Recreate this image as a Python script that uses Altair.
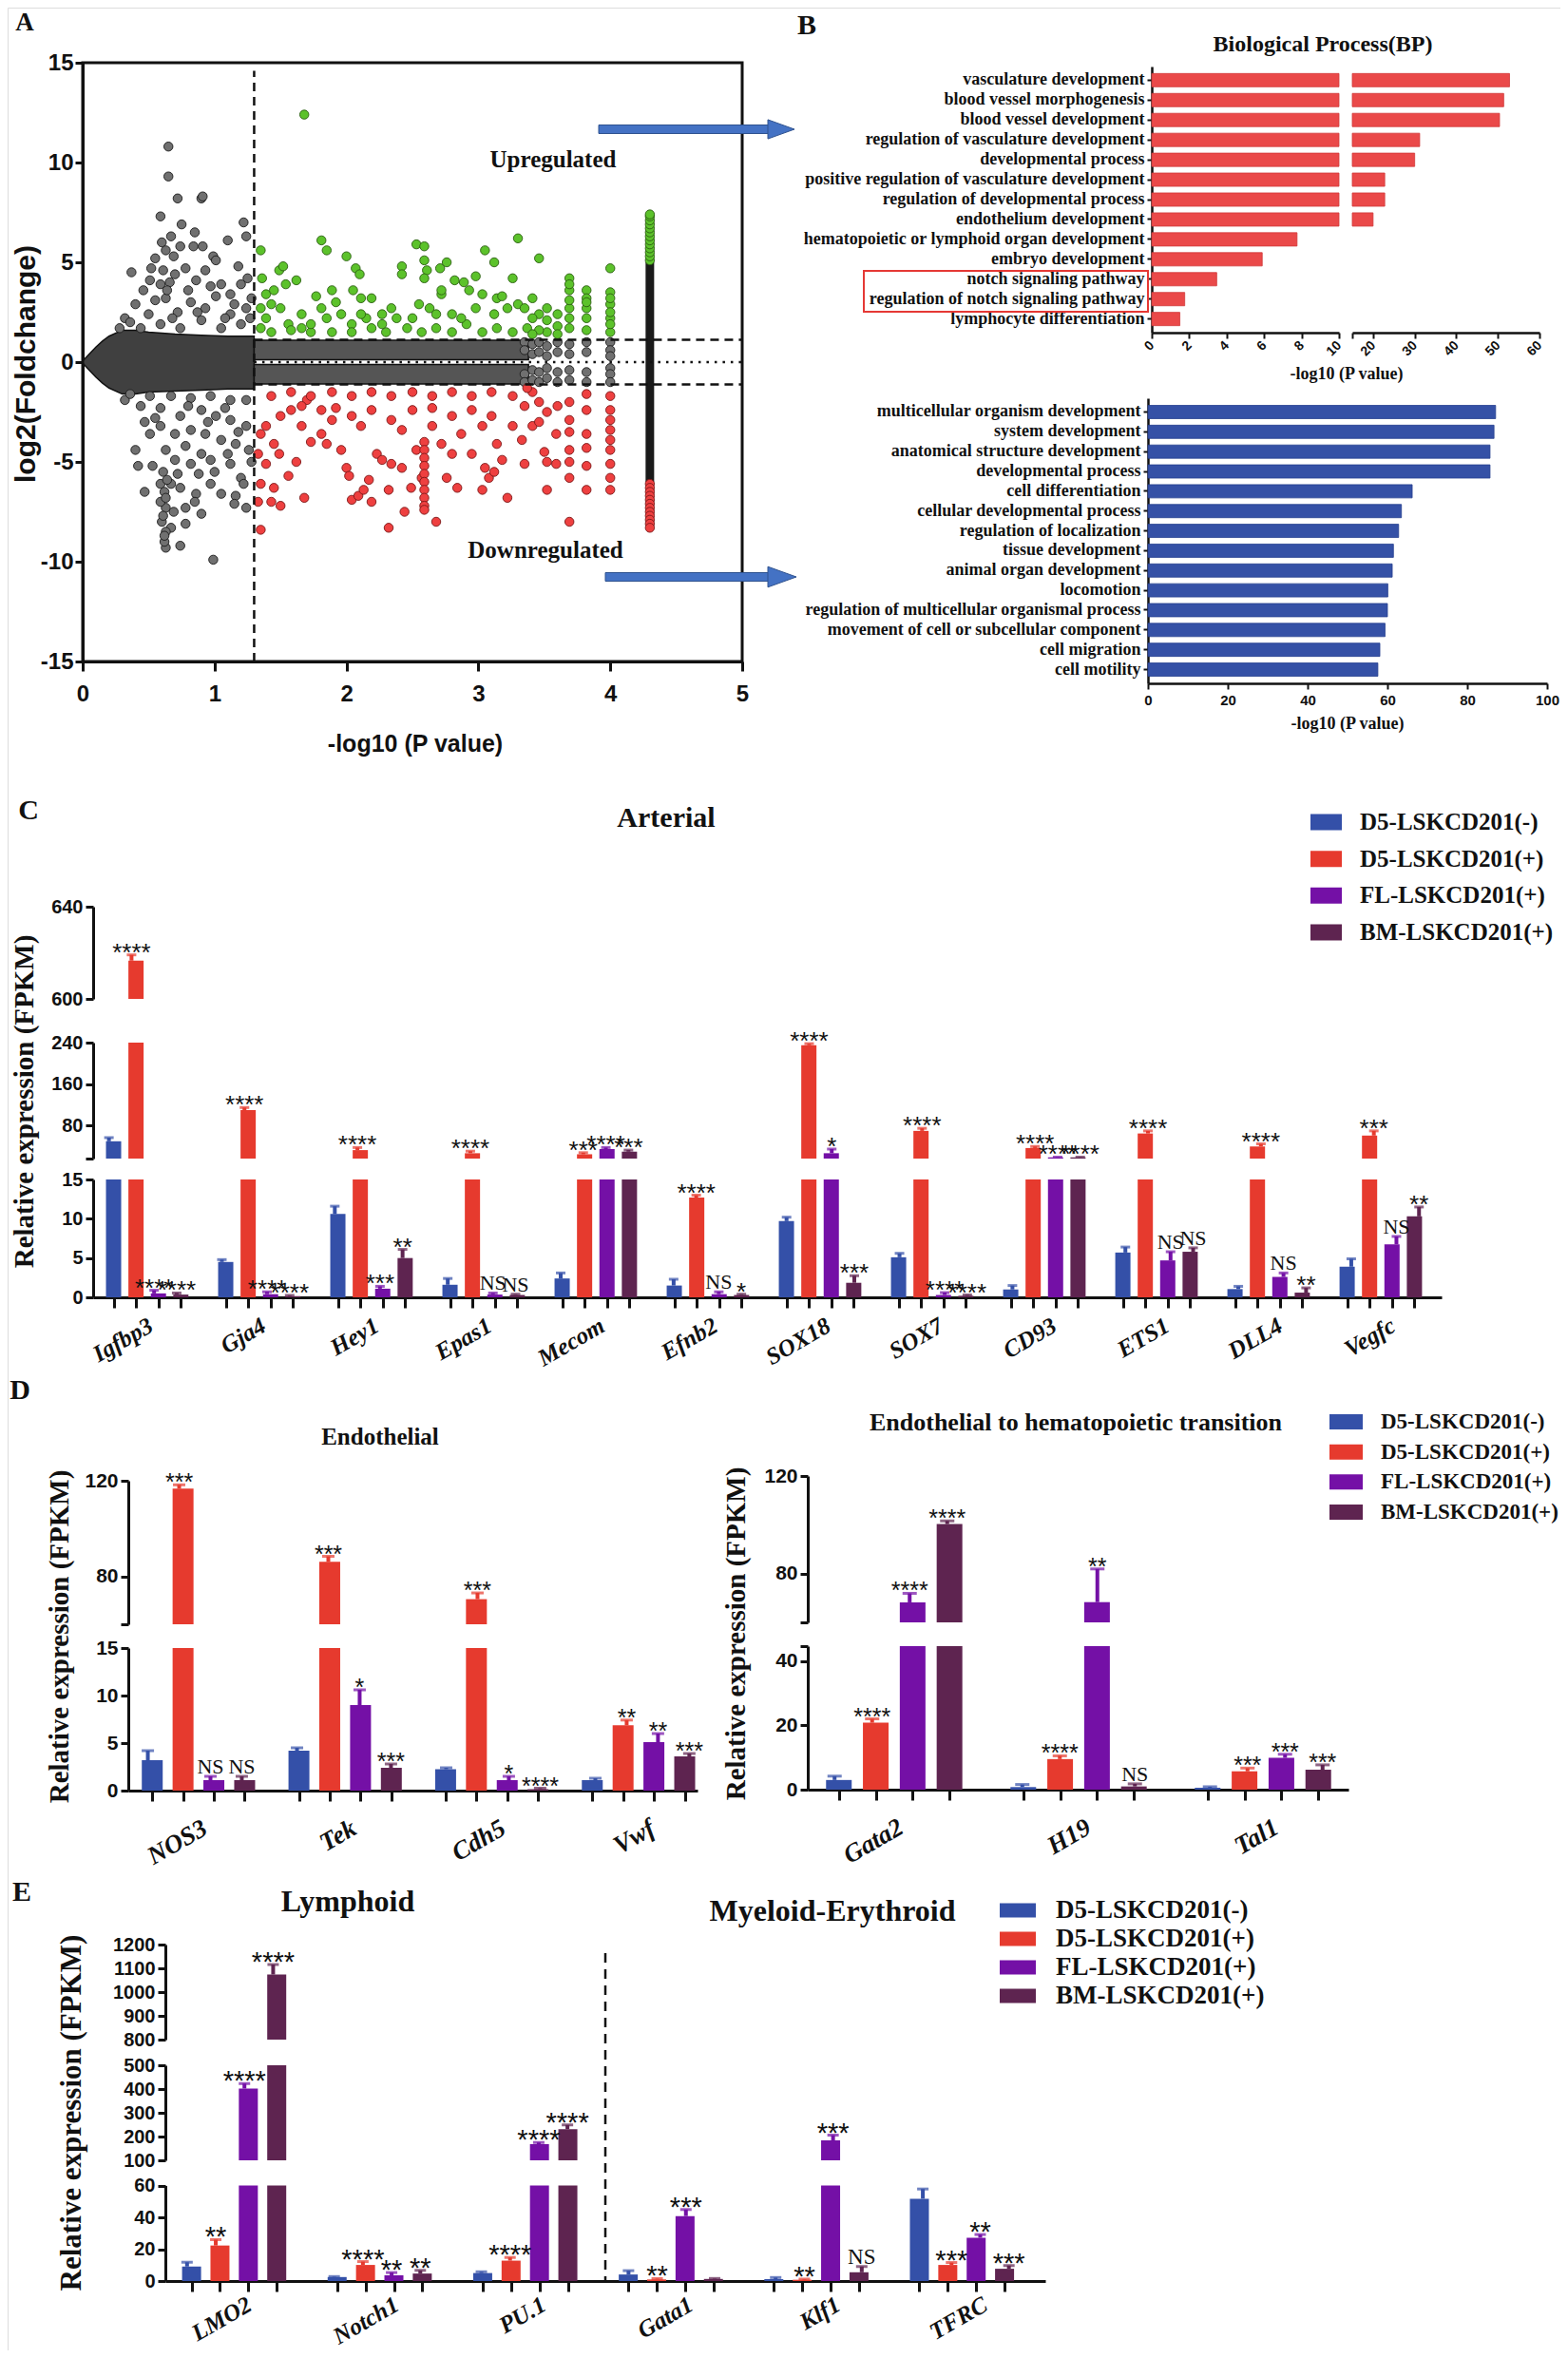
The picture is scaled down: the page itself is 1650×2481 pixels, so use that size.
import json
import altair as alt
import pandas as pd

W, H = 1634, 2465
M = 8


def P(v):
    return round(v - M, 2)


SERIF = "Liberation Serif"
SANS = "Liberation Sans"
BLACK = "#111111"

SERIES = ["D5-LSKCD201(-)", "D5-LSKCD201(+)", "FL-LSKCD201(+)", "BM-LSKCD201(+)"]
SERIES_COLORS = ["#3450A8", "#E63A2E", "#7410A6", "#5E2450"]
COLOR = alt.Color("series:N", scale=alt.Scale(domain=SERIES, range=SERIES_COLORS), legend=None)
ONE = alt.Data(values=[{}])

# ---------------- Panel A : volcano ----------------
up_pts = [(1.68, 12.4), (1.35, 5.6), (1.36, 4.2), (1.39, 3.4), (1.45, 3.6), (1.49, 4.6), (1.52, 4.8), (1.54, 3.9),
          (1.62, 4.1), (1.35, 2.7), (1.43, 2.9), (1.5, 2.7), (1.56, 1.9), (1.66, 1.7), (1.73, 1.5), (1.81, 6.1),
          (1.85, 5.6), (1.77, 3.3), (1.89, 3.6), (1.92, 3.0), (2.0, 5.3), (2.07, 4.7), (2.1, 4.4), (2.05, 3.6),
          (2.11, 3.2), (2.19, 3.2), (1.85, 2.2), (1.96, 2.4), (2.04, 1.9), (2.15, 2.2), (2.27, 2.4), (2.34, 2.7),
          (2.38, 2.2), (2.42, 4.8), (2.42, 4.4), (2.53, 5.9), (2.59, 5.8), (2.59, 5.1), (2.61, 4.6), (2.59, 4.2),
          (2.71, 4.7), (2.76, 5.0), (2.55, 2.9), (2.63, 2.7), (2.72, 3.4), (2.72, 3.6), (2.82, 4.1), (2.89, 4.0),
          (2.98, 4.3), (2.93, 3.6), (3.05, 5.6), (3.03, 3.4), (3.12, 5.0), (3.14, 3.2), (3.26, 4.2), (3.3, 6.2),
          (3.18, 3.3), (3.22, 2.7), (3.3, 2.9), (3.35, 2.7), (3.41, 3.2), (3.46, 5.2), (3.46, 2.4), (3.52, 2.7),
          (3.52, 2.1), (3.6, 2.4), (3.6, 1.8), (3.69, 4.2), (3.69, 3.6), (3.69, 2.7), (3.69, 1.7), (3.82, 3.6),
          (3.82, 3.2), (3.82, 2.2), (4.0, 4.7), (4.0, 3.5), (4.0, 2.9), (4.0, 2.2), (4.0, 1.5), (1.43, 1.5),
          (1.58, 1.6), (1.73, 1.9), (1.89, 1.5), (2.04, 1.5), (2.19, 1.7), (2.3, 1.5), (2.46, 1.7), (2.57, 1.5),
          (2.68, 1.7), (2.8, 1.5), (2.91, 1.9), (3.03, 1.5), (3.14, 1.7), (3.26, 1.5), (3.37, 1.7), (2.8, 2.4),
          (2.87, 2.2), (2.27, 1.9), (2.11, 2.4), (1.66, 2.4), (1.35, 1.7), (1.39, 2.2), (3.41, 2.2), (3.12, 2.4),
          (2.98, 2.7), (2.5, 2.2), (2.68, 2.4), (1.81, 2.7), (3.52, 1.5), (3.6, 1.4), (3.69, 2.2), (3.69, 3.1),
          (3.69, 3.9), (3.82, 1.6), (3.82, 2.7), (3.82, 3.0), (4.0, 1.9), (4.0, 2.5), (4.0, 3.2), (3.46, 1.6),
          (3.41, 1.4)]
down_pts = [(1.35, -8.4), (1.33, -7.0), (1.35, -6.1), (1.39, -5.1), (1.33, -4.6), (1.43, -7.0), (1.45, -6.3),
            (1.5, -7.2), (1.56, -5.7), (1.62, -5.0), (1.68, -6.8), (1.35, -3.6), (1.39, -3.2), (1.45, -4.1),
            (1.49, -4.6), (1.5, -2.7), (1.58, -2.4), (1.66, -3.2), (1.7, -1.9), (1.73, -4.0), (1.81, -3.6),
            (1.85, -4.1), (1.89, -2.9), (1.92, -2.3), (1.96, -4.4), (2.0, -5.3), (2.02, -5.7), (2.04, -6.9),
            (2.09, -6.7), (2.13, -6.4), (2.19, -7.0), (2.17, -5.9), (2.23, -4.6), (2.27, -4.9), (2.32, -6.4),
            (2.34, -5.1), (2.42, -5.3), (2.44, -7.5), (2.49, -6.3), (2.53, -4.4), (2.57, -5.8), (2.68, -8.0),
            (2.32, -8.3), (2.65, -3.2), (2.72, -4.1), (2.76, -5.8), (2.8, -4.6), (2.84, -6.3), (2.87, -3.6),
            (2.95, -4.6), (3.03, -6.4), (3.05, -5.3), (3.08, -5.8), (3.12, -5.5), (3.14, -4.1), (3.22, -6.8),
            (3.18, -4.9), (3.26, -3.2), (3.33, -3.9), (3.35, -5.1), (3.41, -3.2), (3.5, -4.5), (3.52, -6.4),
            (3.59, -5.1), (3.59, -3.6), (3.69, -8.0), (3.69, -5.8), (3.69, -4.4), (3.69, -2.9), (3.82, -6.4),
            (3.82, -5.2), (3.82, -3.6), (3.82, -2.4), (4.0, -6.4), (4.0, -5.8), (4.0, -5.1), (4.0, -4.4),
            (4.0, -3.4), (4.0, -2.4), (4.0, -1.7), (1.43, -1.7), (1.58, -1.5), (1.73, -1.7), (1.89, -1.5),
            (2.04, -1.7), (2.19, -1.5), (2.34, -1.7), (2.5, -1.5), (2.65, -1.7), (2.8, -1.5), (2.95, -1.7),
            (3.1, -1.5), (3.26, -1.7), (3.41, -1.5), (2.04, -2.7), (2.19, -2.4), (2.34, -2.9), (2.5, -2.4),
            (2.65, -2.3), (2.8, -2.7), (2.95, -2.4), (3.1, -2.7), (2.11, -3.2), (2.42, -3.4), (3.03, -3.2),
            (1.81, -2.4), (1.66, -2.2), (2.59, -4.0), (2.59, -4.4), (2.59, -4.8), (2.59, -5.2), (2.59, -5.6),
            (2.59, -6.0), (2.59, -6.4), (2.59, -6.8), (2.59, -7.2), (2.59, -7.4), (3.46, -2.0), (3.46, -3.0),
            (3.52, -2.5), (3.52, -5.0), (3.6, -2.2), (3.69, -2.0), (3.69, -3.5), (3.69, -5.0), (3.82, -1.6),
            (3.82, -4.3), (4.0, -2.9), (4.0, -3.9), (3.35, -2.2), (3.37, -1.3)]
ns_pts = [(0.65, 10.8), (0.65, 9.3), (0.59, 7.3), (0.72, 8.2), (0.75, 6.9), (0.9, 8.2), (0.91, 8.3), (0.85, 6.5),
          (1.22, 7.0), (1.24, 6.3), (1.1, 6.1), (0.6, 6.0), (0.37, 4.5), (0.52, 4.7), (0.63, 5.6), (0.69, 5.3),
          (0.74, 5.8), (0.84, 5.8), (0.91, 5.8), (0.99, 5.3), (1.01, 5.1), (1.18, 4.8), (1.25, 4.2), (0.46, 3.6),
          (0.51, 4.1), (0.59, 3.9), (0.7, 4.4), (0.78, 4.7), (0.86, 4.1), (0.93, 4.6), (1.05, 3.9), (1.12, 3.4),
          (1.2, 3.9), (1.28, 3.2), (0.4, 2.9), (0.5, 2.4), (0.63, 3.2), (0.72, 2.5), (0.82, 3.0), (0.93, 2.7),
          (1.01, 3.3), (1.12, 2.4), (1.24, 2.7), (0.32, 2.2), (0.44, 1.7), (0.59, 1.9), (0.74, 1.7), (0.9, 2.1),
          (1.05, 1.7), (1.2, 1.9), (0.55, 3.1), (0.66, 4.0), (0.8, 3.6), (0.97, 3.8), (1.15, 2.9), (0.28, 1.7),
          (0.36, 2.0), (0.68, 2.2), (0.87, 2.5), (1.08, 2.2), (1.27, 2.2), (0.61, 4.6), (0.67, 6.3), (0.55, 5.2),
          (0.64, 3.6), (0.63, -9.3), (0.62, -9.0), (0.74, -9.2), (0.99, -9.9), (0.6, -8.0), (0.67, -8.3),
          (0.78, -8.1), (0.78, -7.3), (0.63, -7.3), (0.9, -7.6), (0.47, -6.5), (0.4, -4.4), (0.42, -5.2),
          (0.53, -5.2), (0.59, -6.1), (0.67, -6.1), (0.74, -6.3), (0.86, -6.6), (0.97, -6.1), (1.05, -6.6),
          (1.16, -6.7), (1.24, -7.3), (1.2, -5.8), (1.12, -5.1), (0.97, -4.9), (0.9, -4.6), (0.82, -5.1),
          (0.7, -4.9), (0.63, -4.4), (0.51, -3.6), (0.59, -3.2), (0.7, -3.6), (0.82, -3.4), (0.93, -3.6),
          (1.05, -3.9), (1.16, -4.1), (1.26, -4.4), (1.24, -3.2), (1.12, -2.9), (1.01, -2.7), (0.9, -2.4),
          (0.74, -2.7), (0.59, -2.3), (0.44, -2.2), (0.32, -1.9), (0.51, -1.7), (0.67, -1.7), (0.82, -1.8),
          (0.97, -1.7), (1.12, -1.9), (1.24, -1.9), (1.22, -6.1), (0.59, -7.0), (0.69, -7.5), (0.63, -8.5),
          (0.61, -5.5), (0.62, -6.5), (0.61, -7.7), (0.62, -8.7), (0.64, -5.9), (0.63, -6.8), (0.78, -4.2),
          (0.88, -5.6), (1.0, -5.5), (1.1, -4.6), (1.18, -3.5), (0.55, -2.8), (0.47, -3.0), (0.36, -1.6),
          (0.95, -3.0), (1.08, -2.3), (0.8, -2.2), (0.72, -5.6), (0.85, -7.0), (1.15, -7.1), (1.28, -5.0),
          (3.35, 1.0), (3.35, 0.6), (3.35, -0.6), (3.35, -1.0), (3.41, 0.9), (3.41, 0.4), (3.41, -0.4),
          (3.41, -0.9), (3.46, 1.0), (3.46, 0.5), (3.46, -0.5), (3.46, -1.0), (3.52, 0.8), (3.52, 0.3),
          (3.52, -0.3), (3.52, -0.8), (3.6, 1.0), (3.6, 0.5), (3.6, -0.5), (3.6, -1.0), (3.69, 0.9), (3.69, 0.4),
          (3.69, -0.4), (3.69, -0.9), (3.82, 1.0), (3.82, 0.5), (3.82, -0.5), (3.82, -1.0), (4.0, 1.0),
          (4.0, 0.6), (4.0, 0.3), (4.0, -0.3), (4.0, -0.6), (4.0, -1.0)]
col_x = 4.3
up_col_y = [5.1, 5.3, 5.5, 5.7, 5.9, 6.1, 6.3, 6.5, 6.7, 6.9, 7.1, 7.3, 7.4]
down_col_y = [-6.1, -6.3, -6.5, -6.7, -6.9, -7.1, -7.3, -7.5, -7.7, -7.9, -8.1, -8.3]
col_core = (-6.0, 5.0)
core_x = [0.0, 0.05, 0.1, 0.15, 0.2, 0.3, 0.4, 0.5, 0.7, 0.9, 1.1, 1.3]
core_hi = [0.05, 0.4, 0.75, 1.05, 1.3, 1.6, 1.6, 1.5, 1.4, 1.35, 1.3, 1.3]
core_lo = [-0.05, -0.4, -0.75, -1.05, -1.3, -1.6, -1.6, -1.5, -1.45, -1.4, -1.35, -1.35]
band_x = [1.3, 3.38]
band_hi = [1.1, 1.1]
band_lo = [0.12, 0.12]

# ---------------- Panel B : GO terms ----------------
bp_terms = ["vasculature development", "blood vessel morphogenesis", "blood vessel development",
            "regulation of vasculature development", "developmental process",
            "positive regulation of vasculature development", "regulation of developmental process",
            "endothelium development", "hematopoietic or lymphoid organ development", "embryo development",
            "notch signaling pathway", "regulation of notch signaling pathway", "lymphocyte differentiation"]
bp_vals = [52.8, 51.4, 50.4, 31.2, 30.0, 22.8, 22.8, 20.0, 7.76, 5.9, 3.47, 1.76, 1.5]
dn_terms = ["multicellular organism development", "system development", "anatomical structure development",
            "developmental process", "cell differentiation", "cellular developmental process",
            "regulation of localization", "tissue development", "animal organ development", "locomotion",
            "regulation of multicellular organismal process", "movement of cell or subcellular component",
            "cell migration", "cell motility"]
dn_vals = [87.1, 86.7, 85.7, 85.7, 66.2, 63.5, 62.8, 61.5, 61.2, 60.1, 60.0, 59.4, 58.1, 57.6]

# ---------------- Panel C : Arterial ----------------
C_genes = ["Igfbp3", "Gja4", "Hey1", "Epas1", "Mecom", "Efnb2", "SOX18", "SOX7", "CD93", "ETS1", "DLL4", "Vegfc"]
C_vals = [[50, 4.5, 10.6, 1.6, 2.4, 1.5, 9.7, 5.1, 1.0, 5.7, 1.05, 3.9],
          [616.6, 110, 33, 27, 25, 12.7, 235, 70, 37, 65, 40, 61],
          [0.5, 0.4, 1.1, 0.35, 35, 0.4, 27, 0.3, 19, 4.7, 2.6, 6.75],
          [0.35, 0.15, 5.0, 0.3, 30, 0.3, 1.85, 0.2, 19, 5.8, 0.6, 10.3]]
C_errs = [[7, 0.3, 1.0, 0.8, 0.7, 0.8, 0.5, 0.5, 0.5, 0.7, 0.35, 1.0],
          [2.5, 5, 5, 4, 3, 0.3, 3, 5, 3, 5, 5, 9],
          [0.4, 0.3, 0.3, 0.2, 3, 0.3, 8, 0.3, 0.5, 1.1, 0.5, 1.0],
          [0.2, 0.1, 1.1, 0.1, 3, 0.1, 0.9, 0.1, 0.5, 0.5, 0.6, 1.2]]
C_labs = [[""] * 12,
          ["****", "****", "****", "****", "***", "****", "****", "****", "****", "****", "****", "***"],
          ["****", "****", "***", "NS", "****", "NS", "*", "****", "****", "NS", "NS", "NS"],
          ["****", "****", "**", "NS", "***", "*", "***", "****", "****", "NS", "**", "**"]]

# ---------------- Panel D ----------------
DL_genes = ["NOS3", "Tek", "Cdh5", "Vwf"]
DL_vals = [[3.2, 4.2, 2.25, 1.1], [116.7, 86.1, 70.5, 6.87], [1.1, 9.0, 1.1, 5.1], [1.1, 2.4, 0.15, 3.6]]
DL_errs = [[1.0, 0.3, 0.15, 0.2], [1.6, 2.3, 2.6, 0.55], [0.4, 1.6, 0.4, 0.9], [0.4, 0.4, 0.1, 0.3]]
DL_labs = [["", "", "", ""], ["***", "***", "***", "**"], ["NS", "*", "*", "**"], ["NS", "***", "****", "***"]]

DR_genes = ["Gata2", "H19", "Tal1"]
DR_vals = [[3.0, 0.8, 0.6], [20.8, 9.5, 5.7], [68.2, 68.3, 9.9], [100.3, 1.0, 6.2]]
DR_errs = [[1.2, 0.8, 0.3], [1.2, 1.0, 1.0], [3.7, 13.6, 1.1], [1.3, 0.8, 1.5]]
DR_labs = [["", "", ""], ["****", "****", "***"], ["****", "**", "***"], ["****", "NS", "***"]]

# ---------------- Panel E ----------------
E_genes = ["LMO2", "Notch1", "PU.1", "Gata1", "Klf1", "TFRC"]
E_vals = [[9.1, 2.5, 5.0, 4.1, 1.2, 51.7], [22.3, 10.1, 12.8, 1.0, 0.8, 10.1],
          [402, 3.6, 168, 40.8, 184, 27.2], [1074, 4.7, 231, 1.3, 5.5, 7.7]]
E_errs = [[2.7, 0.3, 0.8, 2.4, 1.0, 6.1], [3.7, 2.1, 2.0, 0.5, 0.4, 1.5],
          [21, 1.7, 7, 4.1, 22, 2.0], [42, 2.0, 18, 0.3, 3.6, 2.0]]
E_labs = [["", "", "", "", "", ""], ["**", "****", "****", "**", "**", "***"],
          ["****", "**", "****", "***", "***", "**"], ["****", "**", "****", "", "NS", "***"]]


# ---------------- helpers ----------------
def qs(dom, r0, r1, clamp=True):
    return alt.Scale(domain=dom, range=[P(r0), P(r1)], nice=False, zero=False, clamp=clamp)


def num_expr(hidden=()):
    if hidden:
        return "indexof(%s, datum.value) >= 0 ? '' : datum.value + ''" % json.dumps(list(hidden))
    return "datum.value + ''"


def yaxis(X, values, fs=20, hidden=(), tick=8, width=3, pad=3):
    return alt.Axis(orient="left", offset=-P(X), values=values, labelExpr=num_expr(hidden),
                    domainColor=BLACK, domainWidth=width, tickColor=BLACK, tickWidth=width, tickSize=tick,
                    labelFont=SANS, labelFontSize=fs, labelFontWeight="bold", labelColor=BLACK,
                    labelPadding=pad, labelOverlap=False, labelFlush=False, grid=False, title=None)


def xaxis(Y, **kw):
    base = dict(orient="bottom", offset=P(Y) - H, grid=False, title=None, labelOverlap=False,
                labelFlush=False, domainColor=BLACK, tickColor=BLACK, labelColor=BLACK)
    base.update(kw)
    return alt.Axis(**base)


def txt(s, x, y, size, font=SERIF, weight="bold", angle=0, align="center", baseline="middle", style="normal"):
    return alt.Chart(ONE).mark_text(text=s, x=P(x), y=P(y), fontSize=size, font=font, fontWeight=weight,
                                    angle=angle, align=align, baseline=baseline, color=BLACK, fontStyle=style)


layers = []

# ================= Panel A =================
ax = qs([0, 5], 87, 781)
ay = qs([-15, 15], 696, 66)


def XA(f):
    return alt.X(f, scale=ax, axis=None)


def YA(f):
    return alt.Y(f, scale=ay, axis=None)


core_df = pd.DataFrame({"x": core_x, "hi": core_hi, "lo": core_lo})
layers.append(alt.Chart(core_df).mark_area(color="#404040", opacity=1, stroke="#111111", strokeWidth=1.5).encode(
    x=XA("x:Q"), y=YA("hi:Q"), y2="lo:Q"))
bu = pd.DataFrame({"x": band_x, "hi": band_hi, "lo": band_lo})
layers.append(alt.Chart(bu).mark_area(color="#555555", opacity=1, stroke="#111111", strokeWidth=1.5).encode(
    x=XA("x:Q"), y=YA("hi:Q"), y2="lo:Q"))
bl = pd.DataFrame({"x": band_x, "hi": [-v for v in band_lo], "lo": [-v for v in band_hi]})
layers.append(alt.Chart(bl).mark_area(color="#555555", opacity=1, stroke="#111111", strokeWidth=1.5).encode(
    x=XA("x:Q"), y=YA("hi:Q"), y2="lo:Q"))


def pts_layer(pts, fill, stroke):
    df = pd.DataFrame({"x": [p[0] for p in pts], "y": [p[1] for p in pts]})
    return alt.Chart(df).mark_circle(size=90, fill=fill, stroke=stroke, strokeWidth=0.9, opacity=1).encode(
        x=XA("x:Q"), y=YA("y:Q"))


layers.append(pts_layer(ns_pts, "#707070", "#1a1a1a"))
colcore_df = pd.DataFrame({"x": [col_x], "lo": [col_core[0]], "hi": [col_core[1]]})
layers.append(alt.Chart(colcore_df).mark_rule(color="#1a1a1a", strokeWidth=9).encode(
    x=XA("x:Q"), y=YA("lo:Q"), y2="hi:Q"))
layers.append(pts_layer(up_pts + [(col_x, v) for v in up_col_y], "#5CC22B", "#2b5e12"))
layers.append(pts_layer(down_pts + [(col_x, v) for v in down_col_y], "#EE4040", "#7a1717"))

layers.append(alt.Chart(ONE).mark_rule(color=BLACK, strokeWidth=2.5, strokeDash=[9, 6]).encode(
    x=alt.XDatum(1.3, scale=ax, axis=None), y=alt.YDatum(-15, scale=ay, axis=None), y2=alt.Y2Datum(14.6)))
for yy in (1.12, -1.12):
    layers.append(alt.Chart(ONE).mark_rule(color=BLACK, strokeWidth=2.5, strokeDash=[9, 6]).encode(
        x=alt.XDatum(1.3, scale=ax, axis=None), x2=alt.X2Datum(5), y=alt.YDatum(yy, scale=ay, axis=None)))
layers.append(alt.Chart(ONE).mark_rule(color=BLACK, strokeWidth=2.5, strokeDash=[2.5, 6]).encode(
    x=alt.XDatum(1.3, scale=ax, axis=None), x2=alt.X2Datum(5), y=alt.YDatum(0, scale=ay, axis=None)))
layers.append(alt.Chart(ONE).mark_rect(fillOpacity=0, stroke=BLACK, strokeWidth=3).encode(
    x=alt.XDatum(0, scale=ax, axis=xaxis(696, values=[0, 1, 2, 3, 4, 5], labelExpr=num_expr(),
                                         tickSize=10, tickWidth=3, domainWidth=3, labelFont=SANS,
                                         labelFontSize=24, labelFontWeight="bold", labelPadding=12)),
    x2=alt.X2Datum(5),
    y=alt.YDatum(-15, scale=ay, axis=yaxis(87, [-15, -10, -5, 0, 5, 10, 15], fs=24, pad=2)),
    y2=alt.Y2Datum(15)))
layers.append(txt("Upregulated", 582, 168, 25))
layers.append(txt("Downregulated", 574, 579, 25))
layers.append(txt("log2(Foldchange)", 28, 383, 30, font=SANS, angle=270))
layers.append(txt("-log10 (P value)", 437, 783, 25, font=SANS))
layers.append(txt("A", 26, 24, 27))

# ================= Panel B =================
BRED, BBLUE = "#EA4949", "#3551A6"
b1y = alt.Scale(type="band", domain=bp_terms, range=[P(70), P(350)], paddingInner=0.33, paddingOuter=0.35)
b1l = qs([0, 10], 1212, 1409)
b1r = qs([15, 60], 1423, 1620)
b_yaxis = dict(orient="left", grid=False, title=None, domainColor=BLACK, domainWidth=2.5, tickColor=BLACK,
               tickWidth=2, tickSize=5, labelFont=SERIF, labelFontSize=18, labelFontWeight="bold",
               labelColor=BLACK, labelPadding=3, labelLimit=1000, labelOverlap=False)
bdf1 = pd.DataFrame({"term": bp_terms, "v": bp_vals})
rot = dict(labelAngle=315, labelAlign="right", labelBaseline="middle", labelFont=SANS, labelFontSize=14,
           labelFontWeight="bold", labelPadding=5, tickSize=6, tickWidth=2, domainWidth=2.5)
layers.append(alt.Chart(bdf1).mark_bar(fill=BRED, stroke="#d03a3a", strokeWidth=0.8).encode(
    y=alt.Y("term:N", scale=b1y, axis=alt.Axis(offset=-P(1212), **b_yaxis)),
    x=alt.X("v:Q", scale=b1l, axis=xaxis(350, values=[0, 2, 4, 6, 8, 10], labelExpr=num_expr(), **rot)),
    x2=alt.X2Datum(0)))
layers.append(alt.Chart(bdf1).transform_filter(alt.datum.v > 15).mark_bar(
    fill=BRED, stroke="#d03a3a", strokeWidth=0.8).encode(
    y=alt.Y("term:N", scale=b1y, axis=None),
    x=alt.X("v:Q", scale=b1r, axis=xaxis(350, values=[15, 20, 30, 40, 50, 60], labelExpr=num_expr([15]), **rot)),
    x2=alt.X2Datum(15)))
layers.append(alt.Chart(ONE).mark_rect(fillOpacity=0, stroke="#E53935", strokeWidth=2).encode(
    x=alt.value(P(909)), x2=alt.value(P(1208)), y=alt.value(P(285)), y2=alt.value(P(328))))
layers.append(txt("B", 849, 27, 30))
layers.append(txt("Biological Process(BP)", 1392, 47, 24))
layers.append(txt("-log10 (P value)", 1417, 394, 18))

b2y = alt.Scale(type="band", domain=dn_terms, range=[P(419), P(719)], paddingInner=0.33, paddingOuter=0.36)
b2x = qs([0, 100], 1208, 1628)
bdf2 = pd.DataFrame({"term": dn_terms, "v": dn_vals})
layers.append(alt.Chart(bdf2).mark_bar(fill=BBLUE, stroke="#26408f", strokeWidth=0.8).encode(
    y=alt.Y("term:N", scale=b2y, axis=alt.Axis(offset=-P(1208), **b_yaxis)),
    x=alt.X("v:Q", scale=b2x, axis=xaxis(719, values=[0, 20, 40, 60, 80, 100], labelExpr=num_expr(),
                                         labelFont=SANS, labelFontSize=15, labelFontWeight="bold",
                                         labelPadding=4, tickSize=6, tickWidth=2, domainWidth=2.5)),
    x2=alt.X2Datum(0)))
layers.append(txt("-log10 (P value)", 1418, 762, 18))


# ================= Bar panels (C, D, E) =================
def bar_panel(genes, vals, errs, labs, segs, xdom, xr, sp, barw, capw, yX, tick_fs, gene_fs, gene_pad,
              gene_off, star_fs, ns_fs):
    rows = []
    for gi, g in enumerate(genes):
        for si, s in enumerate(SERIES):
            v = vals[si][gi]
            e = errs[si][gi]
            seg = 0
            for k, sg in enumerate(segs):
                if v > sg["dom"][0]:
                    seg = k
            rows.append({"gene": g, "series": s, "pos": round(gi + (si - 1.5) * sp, 4), "v": v,
                         "top": v + e, "lab": labs[si][gi], "seg": seg})
    df = pd.DataFrame(rows)
    out = []
    base_y = segs[0]["yr"][0]
    tick_vals = sorted(float(p) for p in df["pos"])
    for k, sg in enumerate(segs):
        xs = qs(xdom, xr[0], xr[1])
        ys = qs(sg["dom"], sg["yr"][0], sg["yr"][1])
        bars = alt.Chart(df)
        if k > 0:
            bars = bars.transform_filter(alt.datum.v > sg["dom"][0])
        xax = None
        if k == 0:
            xax = xaxis(base_y, values=tick_vals, labels=False, tickSize=11, tickWidth=3, domainWidth=3)
        out.append(bars.mark_bar(width=barw, orient="vertical").encode(
            x=alt.X("pos:Q", scale=xs, axis=xax),
            y=alt.Y("v:Q", scale=ys, axis=yaxis(yX, sg["ticks"], fs=tick_fs, hidden=sg.get("hidden", ()))),
            y2=alt.Y2Datum(sg["dom"][0]),
            color=COLOR))
        sel = alt.Chart(df).transform_filter(alt.datum.seg == k)
        X = alt.X("pos:Q", scale=xs, axis=None)
        out.append(sel.mark_rule(strokeWidth=4).encode(
            x=X, y=alt.Y("v:Q", scale=ys, axis=None), y2="top:Q", color=COLOR))
        out.append(sel.mark_tick(orient="horizontal", size=capw, thickness=3).encode(
            x=X, y=alt.Y("top:Q", scale=ys, axis=None), color=COLOR))
        out.append(sel.transform_filter((alt.datum.lab != "NS") & (alt.datum.lab != "")).mark_text(
            font=SANS, fontSize=star_fs, baseline="alphabetic", dy=round(star_fs * 0.25), color=BLACK).encode(
            x=X, y=alt.Y("top:Q", scale=ys, axis=None), text="lab:N"))
        out.append(sel.transform_filter(alt.datum.lab == "NS").mark_text(
            font=SERIF, fontSize=ns_fs, baseline="alphabetic", dy=-3, color=BLACK).encode(
            x=X, y=alt.Y("top:Q", scale=ys, axis=None), text="lab:N"))
    gene_axis = xaxis(base_y, values=list(range(len(genes))),
                      labelExpr=json.dumps(genes) + "[round(datum.value)]", ticks=False, tickSize=0,
                      domain=False, labelAngle=330, labelAlign="right", labelBaseline="top",
                      labelPadding=gene_pad, labelOffset=gene_off, labelFont=SERIF, labelFontSize=gene_fs,
                      labelFontWeight="bold", labelFontStyle="italic")
    out.append(alt.Chart(ONE).mark_point(opacity=0).encode(
        x=alt.XDatum(0, scale=qs(xdom, xr[0], xr[1]), axis=gene_axis)))
    return out


def legend(y0, y1, sx0, sx1, hgt, tx, fs):
    df = pd.DataFrame({"series": SERIES})
    sc = alt.Scale(type="point", domain=SERIES, range=[P(y0), P(y1)], padding=0)
    w = sx1 - sx0
    r = round(hgt / w, 3)
    shape = "M-1,-%sL1,-%sL1,%sL-1,%sZ" % (r, r, r, r)
    return [
        alt.Chart(df).mark_point(shape=shape, size=w * w, filled=True, opacity=1).encode(
            x=alt.value(P((sx0 + sx1) / 2)), y=alt.Y("series:N", scale=sc, axis=None), color=COLOR),
        alt.Chart(df).mark_text(align="left", baseline="middle", font=SERIF, fontWeight="bold",
                                fontSize=fs, color=BLACK).encode(
            x=alt.value(P(tx)), y=alt.Y("series:N", scale=sc, axis=None), text="series:N"),
    ]


# ---- C
C_segs = [
    {"dom": [0, 15], "yr": [1365, 1241], "ticks": [0, 5, 10, 15]},
    {"dom": [16.7, 240], "yr": [1219, 1097], "ticks": [16.7, 80, 160, 240], "hidden": [16.7]},
    {"dom": [600, 640], "yr": [1051, 954], "ticks": [600, 640]},
]
layers += bar_panel(C_genes, C_vals, C_errs, C_labs, C_segs, [-0.44, 11.5], [98, 1517], 0.2, 16, 10, 98,
                    20, 25, 17, 2, 26, 22)
layers += legend(865, 981, 1379, 1412, 17, 1431, 25)
layers.append(txt("C", 30, 853, 30))
layers.append(txt("Arterial", 701, 861, 30))
layers.append(txt("Relative expression (FPKM)", 26, 1159, 29, angle=270))

# ---- D
DL_segs = [
    {"dom": [0, 15], "yr": [1884, 1734], "ticks": [0, 5, 10, 15]},
    {"dom": [60, 120], "yr": [1709, 1558], "ticks": [60, 80, 120], "hidden": [60]},
]
layers += bar_panel(DL_genes, DL_vals, DL_errs, DL_labs, DL_segs, [-0.446, 3.37], [135, 734], 0.21, 22, 13,
                    135, 21, 27, 26, 4, 25, 22)
DR_segs = [
    {"dom": [0, 44.6], "yr": [1883, 1732], "ticks": [0, 20, 40, 44.6], "hidden": [44.6]},
    {"dom": [60, 120], "yr": [1707, 1553], "ticks": [60, 80, 120], "hidden": [60]},
]
layers += bar_panel(DR_genes, DR_vals, DR_errs, DR_labs, DR_segs, [-0.443, 2.438], [850, 1419], 0.2, 27, 15,
                    850, 21, 27, 26, 4, 25, 22)
layers += legend(1496, 1591, 1399, 1434, 16, 1453, 23)
layers.append(txt("D", 21, 1463, 30))
layers.append(txt("Endothelial", 400, 1512, 25))
layers.append(txt("Endothelial to hematopoietic transition", 1132, 1497, 26))
layers.append(txt("Relative expression (FPKM)", 63, 1722, 29, angle=270))
layers.append(txt("Relative expression (FPKM)", 775, 1719, 29, angle=270))

# ---- E
E_segs = [
    {"dom": [0, 60], "yr": [2400, 2299.5], "ticks": [0, 20, 40, 60]},
    {"dom": [100, 500], "yr": [2273, 2173], "ticks": [100, 200, 300, 400, 500]},
    {"dom": [800, 1200], "yr": [2146, 2046], "ticks": [800, 900, 1000, 1100, 1200]},
]
E_xdom, E_xr = [-0.44, 5.54], [174, 1100]
layers += bar_panel(E_genes, E_vals, E_errs, E_labs, E_segs, E_xdom, E_xr, 0.195, 20, 12, 174,
                    20, 25, 12, 14, 29, 23)
layers.append(alt.Chart(ONE).mark_rule(color=BLACK, strokeWidth=2.5, strokeDash=[10, 7]).encode(
    x=alt.XDatum(2.55, scale=qs(E_xdom, E_xr[0], E_xr[1]), axis=None),
    y=alt.value(P(2055)), y2=alt.value(P(2400))))
layers += legend(2010, 2100, 1052, 1090, 15, 1111, 27)
layers.append(txt("E", 23, 1991, 30))
layers.append(txt("Lymphoid", 366, 2001, 32))
layers.append(txt("Myeloid-Erythroid", 876, 2011, 32))
layers.append(txt("Relative expression (FPKM)", 76, 2223, 31, angle=270))


# ---- arrows from A to B (drawn last, on top)
def arrow(x0, x1, xt, y):
    w = xt - x1
    return [
        alt.Chart(ONE).mark_rect(fill="#4472C4", stroke="#2F528F", strokeWidth=1).encode(
            x=alt.value(P(x0)), x2=alt.value(P(x1 + 1)), y=alt.value(P(y - 4.5)), y2=alt.value(P(y + 4.5))),
        alt.Chart(ONE).mark_point(shape="M-1,-0.72L1,0L-1,0.72Z", size=w * w, filled=True, fill="#4472C4",
                                  stroke="#2F528F", strokeWidth=1, opacity=1).encode(
            x=alt.value(P((x1 + xt) / 2)), y=alt.value(P(y))),
    ]


layers += arrow(630, 808, 836, 136)
layers += arrow(637, 808, 838, 607)

chart = alt.layer(*layers).resolve_scale(x="independent", y="independent").properties(
    width=W, height=H, autosize=alt.AutoSizeParams(type="none"), padding=0
).configure_view(stroke=None).configure(background="white")

chart.save("out.html", embed_options={"renderer": "svg", "actions": False})
